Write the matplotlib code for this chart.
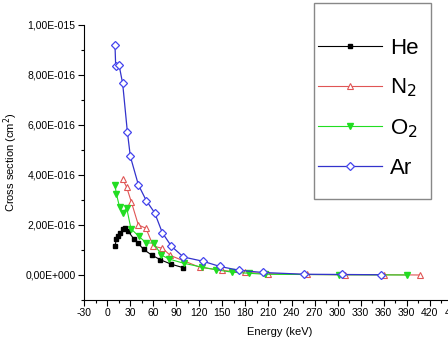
import matplotlib.pyplot as plt
from matplotlib.patches import Rectangle
from matplotlib.ticker import MultipleLocator, FuncFormatter

plt.rcParams['font.family'] = ['Liberation Sans', 'DejaVu Sans']
plt.rcParams['axes.unicode_minus'] = False

# energies (keV) and cross sections (units of 1e-16 cm^2)
he_e = [10.3, 12.1, 14.7, 17.3, 20.7, 23.3, 27.7, 34.6, 39.8, 47.6, 58, 69.3, 83.7, 99.3]
he_s = [1.14, 1.45, 1.56, 1.69, 1.82, 1.87, 1.74, 1.45, 1.29, 1.02, 0.80, 0.61, 0.43, 0.29]

n2_e = [20.3, 25.5, 31.6, 40.7, 50.6, 60.2, 72, 82.4, 120.5, 150, 180, 210, 260, 310, 360, 406.5]
n2_s = [3.83, 3.51, 2.92, 2.0, 1.87, 1.15, 1.07, 0.78, 0.31, 0.18, 0.10, 0.05, 0.02, 0.01, 0.01, 0.0]

o2_e = [10.3, 12.1, 16.4, 20.3, 25.5, 31.1, 41.5, 51.1, 60.6, 70.6, 80.5, 99.6, 124, 142.2, 163,
        184.2, 205, 301.6, 390.5]
o2_s = [3.59, 3.25, 2.70, 2.48, 2.68, 1.85, 1.54, 1.28, 1.28, 0.80, 0.64, 0.47, 0.31, 0.21, 0.11,
        0.07, 0.03, 0.01, 0.0]

ar_e = [10.3, 11.2, 15.5, 20.3, 26.4, 30.3, 40.7, 51.1, 61.9, 71.9, 83.7, 99.3, 124.7, 146.9,
        171.4, 202.8, 255.7, 306, 356.7]
ar_s = [9.21, 8.37, 8.41, 7.66, 5.73, 4.74, 3.61, 2.97, 2.49, 1.69, 1.15, 0.72, 0.55, 0.34,
        0.19, 0.10, 0.03, 0.02, 0.01]

fig = plt.figure(figsize=(4.48, 3.51), dpi=100)
ax = fig.add_axes([0.1875, 0.1453, 0.875, 0.7837])

scale = 1e-16
ax.plot(he_e, [v * scale for v in he_s], '-', color='black', lw=0.8, marker='s', ms=3.5,
        label='He')
ax.plot(n2_e, [v * scale for v in n2_s], '-', color='#e05555', lw=0.8, marker='^', ms=5,
        mfc='white', mec='#e05555', mew=0.8, label='N$_2$')
ax.plot(o2_e, [v * scale for v in o2_s], '-', color='#22dd22', lw=0.8, marker='v', ms=5,
        mfc='#22dd22', mec='#22dd22', label='O$_2$')
ax.plot(ar_e, [v * scale for v in ar_s], '-', color='#3333cc', lw=0.9, marker='D', ms=4.5,
        mfc='white', mec='#4444ee', mew=0.9, label='Ar')

ax.set_xlim(-30, 480)
ax.set_ylim(-1e-16, 1e-15)
ax.xaxis.set_major_locator(MultipleLocator(30))
ax.xaxis.set_minor_locator(MultipleLocator(15))
ax.yaxis.set_major_locator(MultipleLocator(2e-16))
ax.yaxis.set_minor_locator(MultipleLocator(1e-16))


def sci_comma(v, pos):
    if abs(v) < 1e-20:
        return '0,00E+000'
    s = '%.2E' % v
    mant, exp = s.split('E')
    return mant.replace('.', ',') + 'E' + exp[0] + exp[1:].zfill(3)


ax.yaxis.set_major_formatter(FuncFormatter(sci_comma))
ax.tick_params(axis='both', which='major', direction='out', length=4, width=0.8,
               labelsize=7.5, pad=2)
ax.tick_params(axis='both', which='minor', direction='out', length=2, width=0.8)

for s in ['top', 'right']:
    ax.spines[s].set_visible(False)

ax.set_xlabel('Energy (keV)', fontsize=8, labelpad=6)
ax.set_ylabel('Cross section (cm$^2$)', fontsize=8, labelpad=4)

# legend box like the original (frame drawn separately)
W, H = 448.0, 351.0
fig.patches.append(Rectangle((314 / W, 1 - 199 / H), 117 / W, 196 / H, transform=fig.transFigure,
                             fill=False, edgecolor='#888888', lw=1.0))
leg = fig.legend(loc='upper left', bbox_to_anchor=(318 / W, 1 - 38 / H), fontsize=16,
                 frameon=False, handlelength=2.9, numpoints=1, labelspacing=0.8,
                 borderpad=0, borderaxespad=0, handletextpad=0.35)

fig.savefig('out.png', dpi=100)
